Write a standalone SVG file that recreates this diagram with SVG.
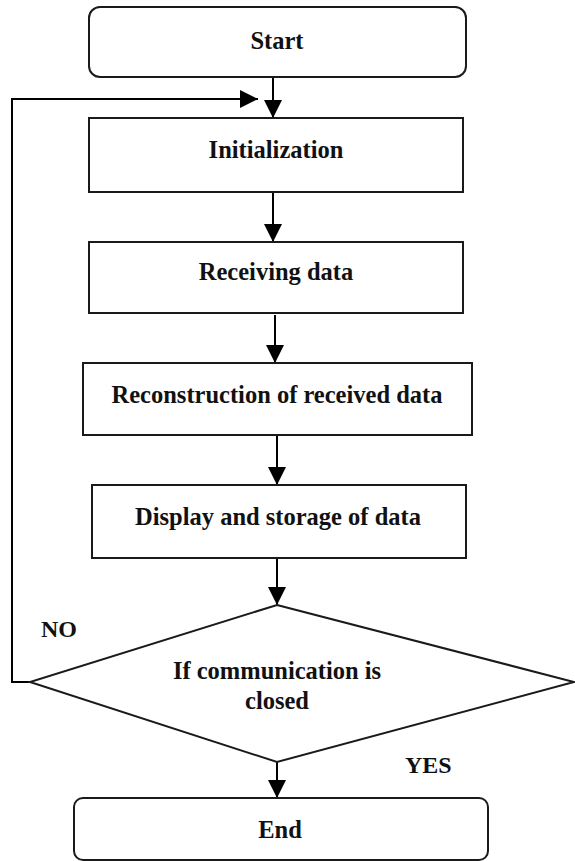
<svg xmlns="http://www.w3.org/2000/svg" width="575" height="861" viewBox="0 0 575 861">
  <defs>
    <style>
      .box { fill: #ffffff; stroke: #1a1a1a; stroke-width: 2; }
      .line { fill: none; stroke: #000000; stroke-width: 2; }
      .lbl { font-family: "Liberation Serif", "Times New Roman", serif; font-weight: bold; font-size: 24.5px; fill: #111111; text-anchor: middle; }
      .side { font-family: "Liberation Serif", "Times New Roman", serif; font-weight: bold; font-size: 24px; fill: #111111; }
    </style>
    <marker id="arrow" viewBox="0 0 18 18" refX="18" refY="9" markerWidth="18" markerHeight="18" markerUnits="userSpaceOnUse" orient="auto">
      <path d="M0,0 L18,9 L0,18 Z" fill="#000000"/>
    </marker>
  </defs>

  <rect width="575" height="861" fill="#ffffff"/>

  <!-- connectors -->
  <g id="connectors">
    <line class="line" x1="273" y1="77" x2="273" y2="118" marker-end="url(#arrow)"/>
    <line class="line" x1="273" y1="192" x2="273" y2="242" marker-end="url(#arrow)"/>
    <line class="line" x1="275" y1="315" x2="275" y2="363" marker-end="url(#arrow)"/>
    <line class="line" x1="277" y1="436" x2="277" y2="485" marker-end="url(#arrow)"/>
    <line class="line" x1="277" y1="558" x2="277" y2="605" marker-end="url(#arrow)"/>
    <line class="line" x1="277" y1="762" x2="277" y2="798" marker-end="url(#arrow)"/>
    <!-- NO branch loops back above Initialization -->
    <polyline class="line" points="32,682 12,682 12,99 258,99" marker-end="url(#arrow)"/>
  </g>

  <g id="start">
    <rect class="box" x="89" y="7" width="377" height="70" rx="11" ry="11"/>
    <text class="lbl" x="277" y="49">Start</text>
  </g>

  <g id="init">
    <rect class="box" x="89" y="118" width="374" height="74"/>
    <text class="lbl" x="276" y="158">Initialization</text>
  </g>

  <g id="receive">
    <rect class="box" x="89" y="242" width="374" height="71"/>
    <text class="lbl" x="276" y="280">Receiving data</text>
  </g>

  <g id="reconstruct">
    <rect class="box" x="83" y="363" width="389" height="72"/>
    <text class="lbl" x="277" y="403">Reconstruction of received data</text>
  </g>

  <g id="display">
    <rect class="box" x="92" y="485" width="374" height="73"/>
    <text class="lbl" x="278" y="525">Display and storage of data</text>
  </g>

  <g id="decision">
    <polygon class="box" points="277,605 574,682 277,762 30,682"/>
    <text class="lbl" x="277" y="679">If communication is</text>
    <text class="lbl" x="277" y="709">closed</text>
  </g>

  <g id="labels">
    <text class="side" x="41" y="637">NO</text>
    <text class="side" x="405" y="773">YES</text>
  </g>

  <g id="end">
    <rect class="box" x="74" y="798" width="414" height="62" rx="9" ry="9"/>
    <text class="lbl" x="280" y="838">End</text>
  </g>
</svg>
